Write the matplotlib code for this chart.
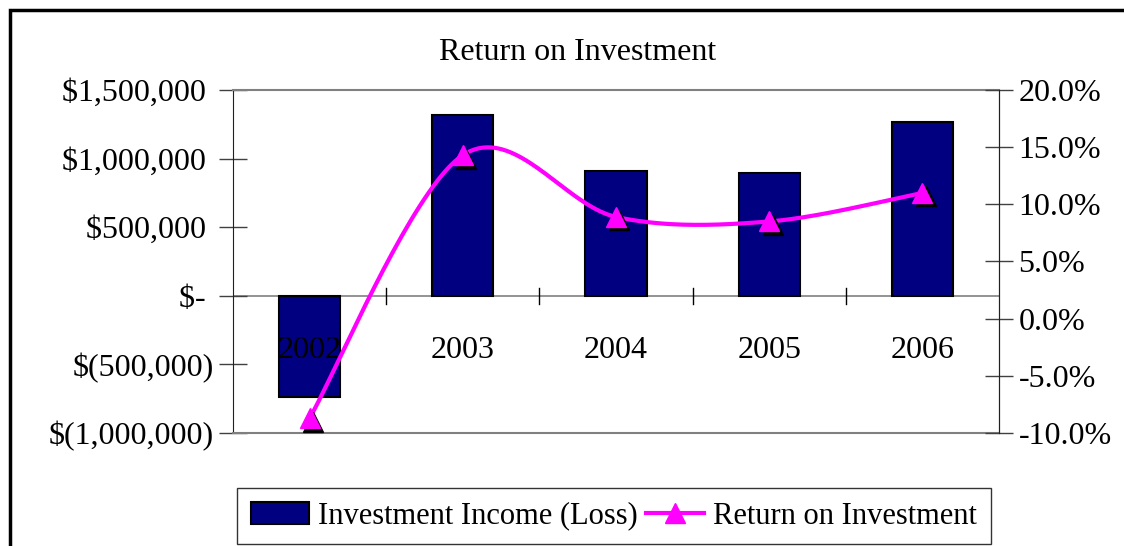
import numpy as np
import matplotlib.pyplot as plt
from matplotlib.patches import Rectangle
from matplotlib.lines import Line2D

years = ["2002", "2003", "2004", "2005", "2006"]
income = [-736000, 1319000, 911000, 897000, 1268000]
roi = [-0.087, 0.143, 0.089, 0.085, 0.110]

left_ticks = [-1000000, -500000, 0, 500000, 1000000, 1500000]
left_labels = ["$(1,000,000)", "$(500,000)", "$- ", "$500,000 ", "$1,000,000 ", "$1,500,000 "]
right_ticks = [-0.10, -0.05, 0.0, 0.05, 0.10, 0.15, 0.20]
right_labels = ["-10.0%", "-5.0%", "0.0%", "5.0%", "10.0%", "15.0%", "20.0%"]

plt.rcParams['font.family'] = ['Liberation Serif', 'DejaVu Serif']
fs = 23


def smooth(xs, ys, n=40):
    # excel style smoothed line (catmull-rom bezier)
    xs = np.asarray(xs, float)
    ys = np.asarray(ys, float)
    px, py = [], []
    for i in range(len(xs) - 1):
        x0, y0 = (xs[i - 1], ys[i - 1]) if i > 0 else (xs[i], ys[i])
        x3, y3 = (xs[i + 2], ys[i + 2]) if i + 2 < len(xs) else (xs[i + 1], ys[i + 1])
        x1, y1, x2, y2 = xs[i], ys[i], xs[i + 1], ys[i + 1]
        c1x, c1y = x1 + (x2 - x0) / 6, y1 + (y2 - y0) / 6
        c2x, c2y = x2 - (x3 - x1) / 6, y2 - (y3 - y1) / 6
        t = np.linspace(0, 1, n)
        px.extend((1-t)**3*x1 + 3*t*(1-t)**2*c1x + 3*t**2*(1-t)*c2x + t**3*x2)
        py.extend((1-t)**3*y1 + 3*t*(1-t)**2*c1y + 3*t**2*(1-t)*c2y + t**3*y2)
    return px, py


fig = plt.figure(figsize=(11.24, 5.46), dpi=100)
fig.patches.append(Rectangle((10/1124, -0.01), 1.1, 1 - 10/546 + 0.01, transform=fig.transFigure,
                             fill=False, edgecolor='black', linewidth=2.5))

ax = fig.add_axes([233/1124, 1 - 433/546, 766/1124, 343/546])
x = np.arange(len(years))
ax.bar(x, income, width=0.40, color='#000080', edgecolor='black', linewidth=1.5, zorder=2)
ax.axhline(0, color='#808080', linewidth=1.2, zorder=1)
ax.set_xlim(-0.5, len(years) - 0.5)
ax.set_ylim(-1000000, 1500000)
ax.set_yticks(left_ticks)
ax.set_yticklabels(left_labels, fontsize=fs)
ax.tick_params(axis='y', direction='inout', length=20, width=1, color='#404040', pad=4)
ax.set_xticks([])
for xb in np.arange(0.5, len(years) - 0.5):
    ax.plot([xb, xb], [-60000, 60000], color='black', linewidth=1, zorder=1)
for xi, yr in zip(x, years):
    ax.text(xi, -400000, yr, ha='center', va='center', fontsize=fs, zorder=5)
for s in ['top', 'bottom']:
    ax.spines[s].set_color('#808080')
    ax.spines[s].set_linewidth(1.5)
ax.spines['left'].set_color('#202020')
ax.spines['right'].set_color('#202020')

ax2 = ax.twinx()
ax2.set_ylim(-0.10, 0.20)
ax2.set_yticks(right_ticks)
ax2.set_yticklabels(right_labels, fontsize=fs)
ax2.tick_params(axis='y', direction='inout', length=20, width=1, color='#404040', pad=4)
for s in ['top', 'bottom', 'left']:
    ax2.spines[s].set_visible(False)
ax2.spines['right'].set_color('#202020')
sx, sy = smooth(x, roi)
ax2.plot(sx, sy, color='#FF00FF', linewidth=3, zorder=3, clip_on=False)
# marker shadows
ax2.plot(x + 0.022, np.array(roi) - 0.003, linestyle='none', marker='^', markersize=15,
         color='black', zorder=3, clip_on=False)
ax2.plot(x, roi, linestyle='none', marker='^', markersize=15, color='#FF00FF', zorder=4,
         clip_on=False)

fig.text(578/1124, 1 - 53/546, "Return on Investment", ha='center', va='center', fontsize=fs)

handles = [Rectangle((0, 0), 1, 1, facecolor='#000080', edgecolor='black', linewidth=1.5),
           Line2D([], [], color='#FF00FF', linewidth=3, marker='^', markersize=15)]
fig.legend(handles, ["Investment Income (Loss)", "Return on Investment"], ncol=2,
           loc='center', bbox_to_anchor=(614/1124, 1 - 516/546), fontsize=22,
           frameon=True, fancybox=False, edgecolor='black', handlelength=1.9,
           handletextpad=0.3, columnspacing=0.25, borderpad=0.45, borderaxespad=0)

fig.savefig("out.png", dpi=100)
